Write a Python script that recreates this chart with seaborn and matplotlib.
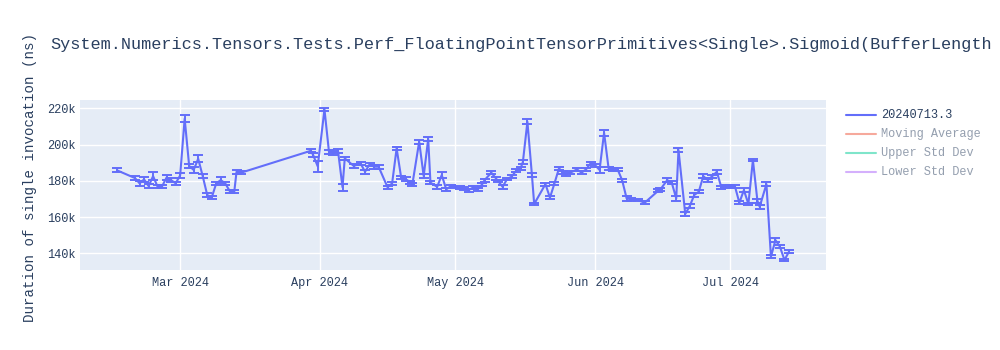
import matplotlib
matplotlib.use("Agg")
import matplotlib.pyplot as plt
import matplotlib.dates as mdates
from matplotlib.lines import Line2D
from matplotlib.ticker import FuncFormatter, FixedLocator
import pandas as pd
import seaborn as sns

# ---------------- data ----------------
dates = [
    "2024-02-16", "2024-02-20", "2024-02-21", "2024-02-22", "2024-02-23", "2024-02-24",
    "2024-02-25", "2024-02-26", "2024-02-27", "2024-02-28", "2024-02-29", "2024-03-01",
    "2024-03-02", "2024-03-03", "2024-03-04", "2024-03-05", "2024-03-06", "2024-03-07",
    "2024-03-08", "2024-03-09", "2024-03-10", "2024-03-11", "2024-03-12", "2024-03-13",
    "2024-03-13 12:00", "2024-03-14 12:00",
    "2024-03-30", "2024-03-30 12:00", "2024-03-31 12:00", "2024-04-02", "2024-04-03",
    "2024-04-04", "2024-04-05", "2024-04-06", "2024-04-06 12:00", "2024-04-08 12:00",
    "2024-04-10", "2024-04-11", "2024-04-12", "2024-04-13", "2024-04-14", "2024-04-16",
    "2024-04-17", "2024-04-18", "2024-04-19", "2024-04-20", "2024-04-21", "2024-04-21 12:00",
    "2024-04-23", "2024-04-24", "2024-04-25", "2024-04-25 12:00", "2024-04-27", "2024-04-28",
    "2024-04-29", "2024-04-30", "2024-05-02", "2024-05-03", "2024-05-04", "2024-05-05",
    "2024-05-06", "2024-05-07", "2024-05-07 12:00", "2024-05-09", "2024-05-10", "2024-05-10 12:00",
    "2024-05-11 12:00", "2024-05-12 12:00", "2024-05-13 12:00", "2024-05-14 12:00", "2024-05-15 12:00",
    "2024-05-16", "2024-05-17", "2024-05-18", "2024-05-18 12:00", "2024-05-21", "2024-05-22",
    "2024-05-23", "2024-05-24", "2024-05-25", "2024-05-25 12:00", "2024-05-26 12:00", "2024-05-28",
    "2024-05-29", "2024-05-30", "2024-05-31", "2024-06-01", "2024-06-02", "2024-06-03",
    "2024-06-04", "2024-06-05", "2024-06-06", "2024-06-07", "2024-06-08", "2024-06-09",
    "2024-06-10 12:00", "2024-06-12", "2024-06-15", "2024-06-15 12:00", "2024-06-17", "2024-06-18",
    "2024-06-19", "2024-06-19 12:00", "2024-06-21", "2024-06-22", "2024-06-23", "2024-06-24",
    "2024-06-25", "2024-06-26", "2024-06-27", "2024-06-28", "2024-06-29", "2024-06-30",
    "2024-07-01", "2024-07-02", "2024-07-03", "2024-07-04", "2024-07-05", "2024-07-06",
    "2024-07-07", "2024-07-07 12:00", "2024-07-09", "2024-07-10", "2024-07-11", "2024-07-12",
    "2024-07-13", "2024-07-14",
]
duration_ns = [
    185800, 181500, 178600, 180800, 177100, 182600,
    176700, 177000, 181900, 180400, 178600, 183000,
    214300, 188200, 186000, 192200, 182600, 172200,
    170800, 178600, 180400, 178600, 174300, 174000,
    185000, 184500,
    196600, 194200, 188000, 219400, 196000,
    195500, 196600, 176500, 192400, 188200,
    189600, 185000, 189100, 187800, 187800, 176400,
    178600, 197900, 181900, 181000, 179200, 178200,
    201600, 182600, 203100, 179000, 176700, 183200,
    175300, 177000, 176200, 175900, 174900, 176400,
    175300, 178200, 180400, 184500, 181400, 179900,
    176700, 181000, 182300, 185600, 186900,
    190500, 212600, 183200, 167200, 178200, 170700,
    178600, 186900, 184500, 183700, 184500, 186300,
    184500, 186300, 189600, 188700, 186000, 206500,
    186900, 186500, 186300, 180400, 170300, 169800,
    169400, 167900, 174500, 175300, 180400, 179000,
    170300, 197000, 161700, 166100, 172200, 174000,
    182600, 180400, 182600, 185000, 176400, 177100,
    177100, 177100, 167900, 174900, 167200, 191500,
    169000, 165700, 178200, 138100, 147300, 143600,
    136300, 140900,
]
error_ns = [
    1200, 1000, 1500, 1500, 1000, 2000,
    800, 800, 1200, 1000, 1000, 1200,
    2000, 1200, 1800, 1800, 1000, 1200,
    800, 1000, 1500, 1000, 800, 800,
    1000, 800,
    800, 1000, 3000, 800, 1000,
    1000, 1000, 2000, 1000, 1000,
    1000, 1200, 1000, 1000, 1200, 1000,
    1000, 1000, 1000, 1000, 800, 800,
    1200, 1000, 1000, 1000, 1200, 1500,
    1000, 800, 800, 800, 800, 1000,
    1000, 800, 800, 800, 800, 800,
    1200, 800, 800, 800, 800,
    1000, 1500, 1200, 800, 800, 1000,
    1000, 1000, 1000, 800, 800, 1000,
    1000, 800, 800, 800, 1500, 1800,
    800, 800, 800, 800, 1200, 800,
    800, 800, 800, 800, 1000, 1000,
    1500, 1200, 1000, 1000, 1000, 800,
    1000, 800, 800, 1000, 1000, 800,
    800, 800, 800, 1000, 800, 800,
    1000, 1000, 1000, 800, 1000, 800,
    800, 800,
]
series_name = "20240713.3"
legend_labels = ["20240713.3", "Moving Average", "Upper Std Dev", "Lower Std Dev"]
title_text = "System.Numerics.Tensors.Tests.Perf_FloatingPointTensorPrimitives<Single>.Sigmoid(BufferLength"
y_label = "Duration of single invocation (ns)"
x_tick_dates = ["2024-03-01", "2024-04-01", "2024-05-01", "2024-06-01", "2024-07-01"]
y_ticks = [140000, 160000, 180000, 200000, 220000]

df = pd.DataFrame({"date": pd.to_datetime(dates, format="mixed"),
                   "duration": duration_ns, "err": error_ns})

# ---------------- style ----------------
sns.set_theme(style="white")
MONO = ["Liberation Mono", "DejaVu Sans Mono"]
plt.rcParams["font.family"] = MONO
TXT = "#2a3f5f"
BLUE = "#636EFA"

W, H = 1000, 350
fig = plt.figure(figsize=(W / 100, H / 100), dpi=100)
fig.patch.set_facecolor("white")
# plot area: x 80..826, y 100..270 (pixels)
ax = fig.add_axes([80 / W, 1 - 270 / H, (826 - 80) / W, (270 - 100) / H])
ax.set_facecolor("#E5ECF6")
for s in ax.spines.values():
    s.set_visible(False)

ax.errorbar(df["date"], df["duration"], yerr=df["err"], fmt="none",
            ecolor=BLUE, elinewidth=1.4, capsize=3.6, capthick=1.4, zorder=3)
sns.lineplot(data=df, x="date", y="duration", ax=ax, color=BLUE, linewidth=1.5,
             estimator=None, sort=False, legend=False, zorder=4)

ax.set_xlim(pd.Timestamp("2024-02-07 19:00"), pd.Timestamp("2024-07-22 05:00"))
ax.set_ylim(130800, 224600)

ax.xaxis.set_major_locator(FixedLocator(mdates.date2num(pd.to_datetime(x_tick_dates))))
ax.xaxis.set_major_formatter(mdates.DateFormatter("%b %Y"))
ax.yaxis.set_major_locator(FixedLocator(y_ticks))
ax.yaxis.set_major_formatter(FuncFormatter(lambda v, p: f"{int(round(v / 1000))}k"))
ax.grid(True, color="white", linewidth=1.0)
ax.set_axisbelow(True)
ax.tick_params(axis="both", length=0, labelsize=8.6, colors=TXT, pad=3)
ax.tick_params(axis="x", pad=5)
ax.set_xlabel("")
ax.set_ylabel("")

fig.text(50 / W, 1 - 45 / H, title_text, fontsize=12.2, color=TXT, ha="left", va="center",
         family=MONO)
fig.text(30 / W, 1 - 178 / H, y_label, fontsize=10.2, color=TXT, rotation=90,
         ha="center", va="center", family=MONO)

# legend (Plotly-like, hidden traces are faded)
leg_colors = [BLUE, "#EF553B", "#00CC96", "#AB63FA"]
leg_alpha = [1.0, 0.5, 0.5, 0.5]
for i, (lab, col, al) in enumerate(zip(legend_labels, leg_colors, leg_alpha)):
    yy = 1 - (115 + 19 * i) / H
    fig.add_artist(Line2D([846 / W, 876 / W], [yy, yy], color=col, alpha=al, linewidth=1.5,
                          transform=fig.transFigure))
    fig.text(881 / W, yy, lab, fontsize=8.6, color=TXT, alpha=al, ha="left", va="center",
             family=MONO)

fig.savefig("out.png", dpi=100)
